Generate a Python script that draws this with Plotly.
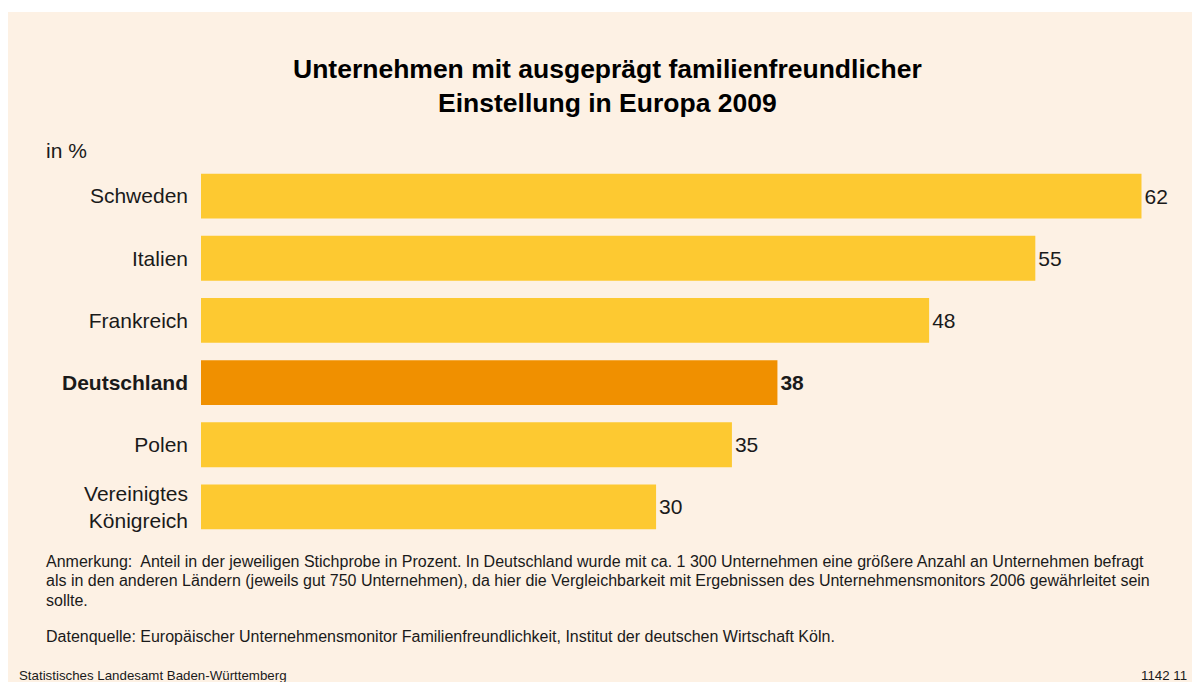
import plotly.graph_objects as go

# Daten: Anteil Unternehmen mit ausgeprägt familienfreundlicher Einstellung, in %
laender = ["Schweden", "Italien", "Frankreich", "Deutschland", "Polen", "Vereinigtes Königreich"]
tick_texte = ["Schweden", "Italien", "Frankreich", "<b>Deutschland</b>", "Polen", "Vereinigtes<br>Königreich"]
werte = [62, 55, 48, 38, 35, 30]
hervorheben = "Deutschland"

W, H = 1200, 682
OFF = 8  # Seitenrand des Browsers
# Plotbereich in Pixeln der Figur
L, R, T, B = 193, 1179, 157, 530
CREAM = "#fdf1e4"
GELB = "#fdc931"
ORANGE = "#f09000"
TEXT = "#1a1a1a"
FONT = "Liberation Sans, Arial, sans-serif"


# Bildschirm-Pixel -> paper-Koordinaten
def px(x):
    return (x - OFF - L) / (R - L)


def py(y):
    return (B - (y - OFF)) / (B - T)


farben = [ORANGE if l == hervorheben else GELB for l in laender]
beschriftung = [f"<b>{v}</b>" if l == hervorheben else str(v) for l, v in zip(laender, werte)]

fig = go.Figure(
    go.Bar(
        x=werte,
        y=laender,
        orientation="h",
        marker=dict(color=farben, line=dict(width=0)),
        text=beschriftung,
        textposition="outside",
        textfont=dict(size=21, color=TEXT, family=FONT),
        cliponaxis=False,
        hoverinfo="skip",
    )
)

# weisser Streifen oben
fig.add_shape(
    type="rect",
    xref="paper",
    yref="paper",
    x0=px(0),
    x1=px(W + 20),
    y0=py(12),
    y1=py(0),
    fillcolor="white",
    line_width=0,
    layer="below",
)

anmerkung = [
    "Anmerkung:  Anteil in der jeweiligen Stichprobe in Prozent. In Deutschland wurde mit ca. 1 300 Unternehmen eine größere Anzahl an Unternehmen befragt",
    "als in den anderen Ländern (jeweils gut 750 Unternehmen), da hier die Vergleichbarkeit mit Ergebnissen des Unternehmensmonitors 2006 gewährleitet sein",
    "sollte.",
]
anmerkung_y = [561, 580, 600]
quelle = "Datenquelle: Europäischer Unternehmensmonitor Familienfreundlichkeit, Institut der deutschen Wirtschaft Köln."

annos = [
    dict(
        text="<b>Unternehmen mit ausgeprägt familienfreundlicher<br>Einstellung in Europa 2009</b>",
        x=px(607), y=py(86), xanchor="center", yanchor="middle",
        font=dict(size=26.5, color="#000000", family=FONT),
    ),
    dict(text="in %", x=px(44), y=py(150), xanchor="left", yanchor="middle",
         font=dict(size=21, color=TEXT, family=FONT)),
    dict(text=quelle, x=px(44), y=py(636), xanchor="left", yanchor="middle", align="left",
         font=dict(size=16, color=TEXT, family=FONT)),
    dict(text="Statistisches Landesamt Baden-Württemberg", x=px(17), y=py(675),
         xanchor="left", yanchor="middle", font=dict(size=13.3, color=TEXT, family=FONT)),
    dict(text="1142 11", x=px(1189), y=py(675), xanchor="right", yanchor="middle",
         font=dict(size=13.3, color=TEXT, family=FONT)),
]
for zeile, y in zip(anmerkung, anmerkung_y):
    annos.append(dict(text=zeile, x=px(44), y=py(y), xanchor="left", yanchor="middle",
                      font=dict(size=16, color=TEXT, family=FONT)))
for a in annos:
    a.update(xref="paper", yref="paper", showarrow=False)

fig.update_layout(
    width=W,
    height=H,
    margin=dict(l=L, r=W - R, t=T, b=H - B),
    paper_bgcolor=CREAM,
    plot_bgcolor=CREAM,
    bargap=0.28,
    showlegend=False,
    annotations=annos,
    xaxis=dict(range=[0, 65], visible=False, fixedrange=True),
    yaxis=dict(
        autorange="reversed",
        tickmode="array",
        tickvals=laender,
        ticktext=tick_texte,
        showgrid=False,
        showline=False,
        zeroline=False,
        ticks="",
        ticklabelstandoff=12,
        tickfont=dict(size=21, color=TEXT, family=FONT),
        fixedrange=True,
    ),
    font=dict(family=FONT, color=TEXT),
)

fig.write_html("out.html")
